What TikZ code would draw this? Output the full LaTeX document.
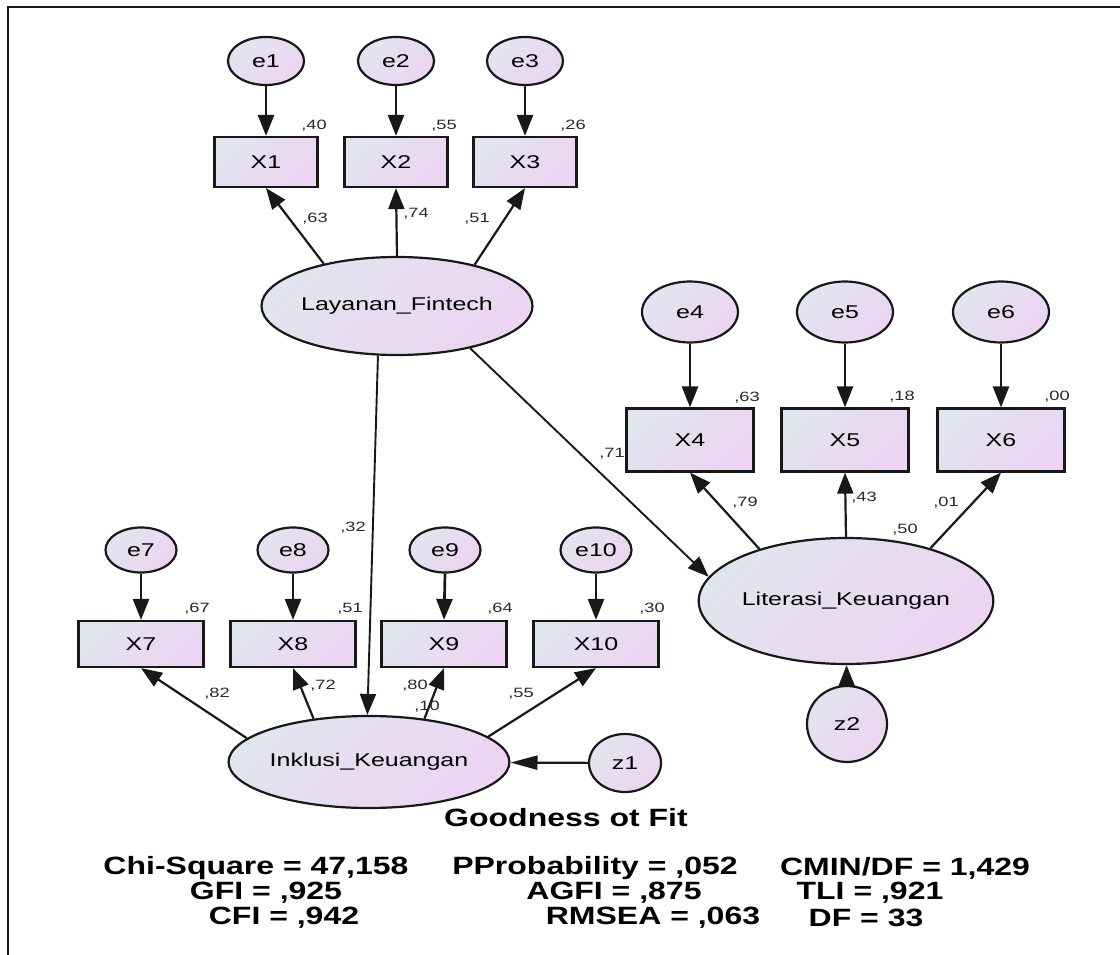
\documentclass[tikz,border=0pt]{standalone}
\usepackage{fontspec}
\setmainfont{Liberation Sans}[FakeStretch=1.35]
\newfontfamily\fitfont{Liberation Sans}[FakeStretch=1.28]
\usepackage{tikz}
\usetikzlibrary{arrows.meta,positioning,shapes.geometric}
\definecolor{shadeA}{RGB}{225,229,238}
\definecolor{shadeB}{RGB}{236,212,242}
\definecolor{inkline}{RGB}{24,24,24}
\definecolor{numgray}{RGB}{40,40,40}

\begin{document}
\begin{tikzpicture}[x=1pt,y=-1pt,>=Triangle,
soft fill/.style={top color=shadeA,bottom color=shadeB,shading angle=45},
item box/.style={draw=inkline,line width=2.2pt,rectangle,soft fill,inner sep=0pt,font=\fontsize{18.5}{20}\selectfont},
err node/.style={draw=inkline,line width=2.2pt,ellipse,soft fill,inner sep=0pt,font=\fontsize{18.5}{20}\selectfont},
latent node/.style={draw=inkline,line width=2.2pt,ellipse,soft fill,inner sep=0pt,font=\fontsize{18.5}{20}\selectfont},
err flow/.style={-{Triangle[length=21pt,width=16pt]},line width=2.7pt,draw=inkline},
flow/.style={-{Triangle[length=21pt,width=16pt]},line width=2.2pt,draw=inkline},
coef/.style={inner sep=0pt,text=numgray,font=\fontsize{13.5}{14}\selectfont},
fit text/.style={inner sep=0pt,font=\fitfont\fontsize{25}{27}\selectfont\bfseries}]
\useasboundingbox (0,0) rectangle (1120,955);
\draw[line width=2pt,inkline] (8,955) -- (8,7) -- (1120,7);
% Layanan_Fintech block
\node[err node,minimum width=76pt,minimum height=48pt] (e1) at (266,61) {e1};
\node[err node,minimum width=76pt,minimum height=48pt] (e2) at (396,61) {e2};
\node[err node,minimum width=76pt,minimum height=48pt] (e3) at (525,61) {e3};
\node[item box,minimum width=103pt,minimum height=50pt] (x1) at (266,162) {X1};
\node[item box,minimum width=103pt,minimum height=50pt] (x2) at (396,162) {X2};
\node[item box,minimum width=103pt,minimum height=50pt] (x3) at (525,162) {X3};
\node[latent node,minimum width=202pt,minimum height=98pt] (lf) at (397,306) {Layanan\_Fintech};
% Literasi_Keuangan block
\node[err node,minimum width=96pt,minimum height=61pt] (e4) at (690,312) {e4};
\node[err node,minimum width=96pt,minimum height=61pt] (e5) at (845,312) {e5};
\node[err node,minimum width=96pt,minimum height=61pt] (e6) at (1001,312) {e6};
\node[item box,minimum width=127pt,minimum height=63pt] (x4) at (690,440) {X4};
\node[item box,minimum width=127pt,minimum height=63pt] (x5) at (845,440) {X5};
\node[item box,minimum width=127pt,minimum height=63pt] (x6) at (1001,440) {X6};
\node[latent node,minimum width=256pt,minimum height=126pt] (lk) at (846,601) {Literasi\_Keuangan};
\node[err node,minimum width=80pt,minimum height=76pt] (z2) at (847,724) {z2};
% Inklusi_Keuangan block
\node[err node,minimum width=71pt,minimum height=45pt] (e7) at (141,550) {e7};
\node[err node,minimum width=71pt,minimum height=45pt] (e8) at (293,550) {e8};
\node[err node,minimum width=71pt,minimum height=45pt] (e9) at (445,550) {e9};
\node[err node,minimum width=71pt,minimum height=45pt] (e10) at (596,550) {e10};
\node[item box,minimum width=125pt,minimum height=46pt] (x7) at (141,644) {X7};
\node[item box,minimum width=125pt,minimum height=46pt] (x8) at (293,644) {X8};
\node[item box,minimum width=125pt,minimum height=46pt] (x9) at (444,644) {X9};
\node[item box,minimum width=125pt,minimum height=46pt] (x10) at (596,644) {X10};
\node[latent node,minimum width=248pt,minimum height=92pt] (ik) at (369,762) {Inklusi\_Keuangan};
\node[err node,minimum width=72pt,minimum height=58pt] (z1) at (625,763) {z1};
% error terms
\foreach \i in {1,...,10} \draw[err flow] (e\i.south) -- (x\i.north);
% loadings
\draw[flow] (lf.150) -- (x1.south);
\draw[flow] (lf.north) -- (x2.south);
\draw[flow] (lf.28) -- (x3.south);
\draw[flow] (lk.149) -- (x4.south);
\draw[flow] (lk.north) -- (x5.south);
\draw[flow] (lk.32) -- (x6.south);
\draw[flow] (ik.169) -- (x7.south);
\draw[flow] (ik.142) -- (x8.south);
\draw[flow] (ik.38) -- (x9.south);
\draw[flow] (ik.12) -- (x10.south);
% structural paths
\draw[flow,line width=1.9pt] (lf.-30) -- (lk.170);
\draw[flow,line width=1.9pt] (lf.-111) -- (ik.92);
\draw[flow,-{Triangle[length=27pt,width=14pt]}] (z1) -- (ik);
\draw[flow] (z2) -- (lk);
% estimates
\node[coef] (r1) at (314,126) {,40};
\node[coef] (r2) at (444,126) {,55};
\node[coef] (r3) at (573,126) {,26};
\node[coef] (l1) at (315,219) {,63};
\node[coef] (l2) at (416,214) {,74};
\node[coef] (l3) at (477,219) {,51};
\node[coef] (r4) at (747,398) {,63};
\node[coef] (r5) at (902,397) {,18};
\node[coef] (r6) at (1057,397) {,00};
\node[coef] (l4) at (745,503) {,79};
\node[coef] (l5) at (864,498) {,43};
\node[coef] (l6) at (946,503) {,01};
\node[coef] (rlk) at (905,530) {,50};
\node[coef] (b1) at (612,454) {,71};
\node[coef] (b2) at (353,528) {,32};
\node[coef] (r7) at (197,609) {,67};
\node[coef] (r8) at (350,609) {,51};
\node[coef] (r9) at (500,609) {,64};
\node[coef] (r10) at (652,609) {,30};
\node[coef] (l7) at (217,694) {,82};
\node[coef] (l8) at (323,686) {,72};
\node[coef] (l9) at (415,686) {,80};
\node[coef] (rik) at (427,707) {,10};
\node[coef] (l10) at (521,694) {,55};
% fit indices
\node[fit text] (gof) at (566,818) {Goodness ot Fit};
\node[fit text] (f1) at (256,868) {Chi-Square = 47,158};
\node[fit text] (f2) at (595,868) {PProbability = ,052};
\node[fit text] (f3) at (905,868) {CMIN/DF = 1,429};
\node[fit text] (f4) at (266,893) {GFI = ,925};
\node[fit text] (f5) at (614,893) {AGFI = ,875};
\node[fit text] (f6) at (870,893) {TLI = ,921};
\node[fit text] (f7) at (284,918) {CFI = ,942};
\node[fit text] (f8) at (653,918) {RMSEA = ,063};
\node[fit text] (f9) at (866,918) {DF = 33};
\end{tikzpicture}
\end{document}
